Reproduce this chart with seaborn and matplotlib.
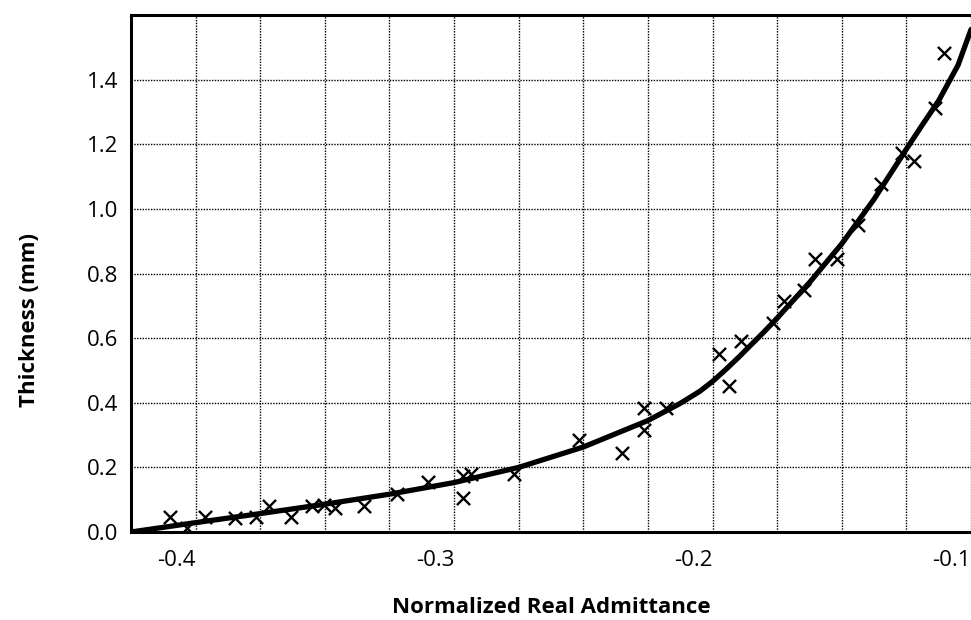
# =========================
# IMPORT LIBRARIES
# =========================

import numpy as np
import pandas as pd
import matplotlib
matplotlib.use("Agg")
import matplotlib.pyplot as plt
import seaborn as sns

# =========================
# DATA
# =========================

# measured points
meas_x = [-0.410, -0.4035, -0.3965, -0.3846, -0.3767, -0.3715, -0.3632, -0.355,
          -0.3504, -0.3462, -0.335, -0.3222, -0.310, -0.2965, -0.2933, -0.2965,
          -0.2767, -0.2517, -0.235, -0.2267, -0.2267, -0.218, -0.1974, -0.1936,
          -0.1888, -0.1767, -0.1722, -0.1645, -0.1603, -0.1517, -0.1436, -0.135,
          -0.1267, -0.1222, -0.1138, -0.1103]
meas_y = [0.046, 0.012, 0.046, 0.043, 0.046, 0.080, 0.046, 0.080,
          0.083, 0.075, 0.080, 0.118, 0.154, 0.174, 0.179, 0.106,
          0.179, 0.284, 0.245, 0.383, 0.315, 0.385, 0.552, 0.451,
          0.592, 0.646, 0.716, 0.749, 0.846, 0.846, 0.949, 1.077,
          1.174, 1.148, 1.313, 1.482]

# fitted curve
fit_x = [-0.425, -0.400, -0.375, -0.350, -0.325, -0.300, -0.275, -0.250,
         -0.225, -0.2125, -0.205, -0.200, -0.195, -0.190, -0.185, -0.180,
         -0.175, -0.1625, -0.150, -0.1375, -0.125, -0.119, -0.1125, -0.105, -0.100]
fit_y = [0.000, 0.029, 0.057, 0.086, 0.117, 0.153, 0.200, 0.263,
         0.345, 0.398, 0.435, 0.466, 0.502, 0.540, 0.580, 0.620,
         0.662, 0.772, 0.892, 1.030, 1.185, 1.258, 1.335, 1.445, 1.555]

x_ticks = [-0.4, -0.3, -0.2, -0.1]
x_tick_labels = ["-0.4", "-0.3", "-0.2", "-0.1"]
y_ticks = [0.0, 0.2, 0.4, 0.6, 0.8, 1.0, 1.2, 1.4]
y_tick_labels = ["0.0", "0.2", "0.4", "0.6", "0.8", "1.0", "1.2", "1.4"]

meas_df = pd.DataFrame({"admittance": meas_x, "thickness": meas_y})
fit_df = pd.DataFrame({"admittance": fit_x, "thickness": fit_y})

# =========================
# STYLE
# =========================

sns.set_theme(style="white")
plt.rcParams["font.family"] = ["Open Sans", "DejaVu Sans"]
plt.rcParams["axes.unicode_minus"] = False

# =========================
# FIGURE
# =========================

fig = plt.figure(figsize=(9.71, 6.20), dpi=100)

ax = fig.add_axes([131 / 971, (620 - 532) / 620, (971 - 131) / 971, (532 - 15) / 620])

sns.lineplot(data=fit_df, x="admittance", y="thickness", ax=ax,
             color="black", linewidth=3.8, zorder=3)

sns.scatterplot(data=meas_df, x="admittance", y="thickness", ax=ax,
                marker="x", s=90, color="black", linewidth=1.7, zorder=4)

ax.set_xlim(-0.425, -0.1)
ax.set_ylim(0, 1.6)

ax.set_xticks(x_ticks)
ax.set_xticklabels(x_tick_labels, ha="right")
ax.set_xticks(np.arange(-0.425, -0.099, 0.025), minor=True)
ax.set_yticks(y_ticks)
ax.set_yticklabels(y_tick_labels)
ax.set_yticks([1.6], minor=True)

ax.tick_params(axis="both", which="both", length=0, labelsize=16, colors="black")
ax.tick_params(axis="x", pad=13)
ax.tick_params(axis="y", pad=9)

ax.grid(True, which="both", color="black", linewidth=1.0, linestyle=(0, (1, 1)))
ax.set_axisbelow(True)

for side in ["left", "bottom", "top"]:
    ax.spines[side].set_color("black")
    ax.spines[side].set_linewidth(2.2)
ax.spines["right"].set_visible(False)

ax.set_xlabel("Normalized Real Admittance", fontsize=16, fontweight="bold", color="black")
ax.set_ylabel("Thickness (mm)", fontsize=16, fontweight="bold", color="black")
ax.xaxis.set_label_coords(0.5, -0.125)
ax.yaxis.set_label_coords(-0.108, 0.41)

fig.savefig("out.png", dpi=100, facecolor="white")
